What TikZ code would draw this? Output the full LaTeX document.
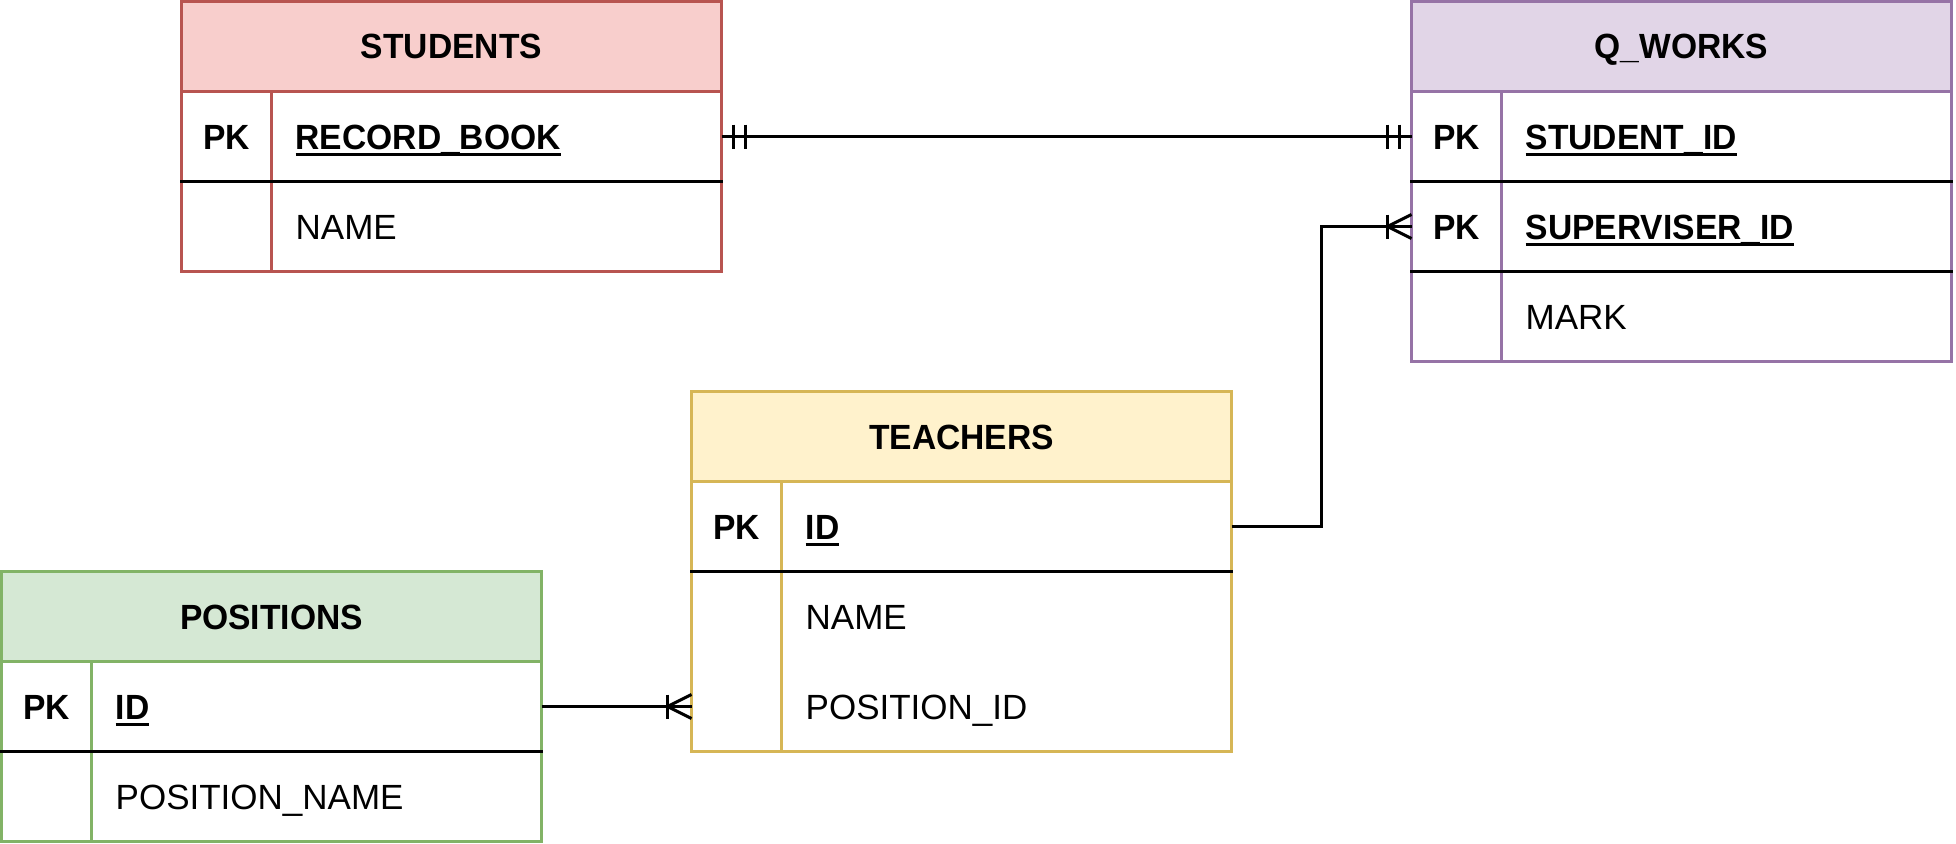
\documentclass[tikz,border=0pt]{standalone}
\usepackage{fontspec}
\setmainfont{Liberation Sans}[BoldFeatures={FakeStretch=0.96}]
\definecolor{redS}{HTML}{B85450}\definecolor{redF}{HTML}{F8CECC}
\definecolor{purS}{HTML}{9673A6}\definecolor{purF}{HTML}{E1D5E7}
\definecolor{yelS}{HTML}{D6B656}\definecolor{yelF}{HTML}{FFF2CC}
\definecolor{grnS}{HTML}{82B366}\definecolor{grnF}{HTML}{D5E8D4}
\newcommand\keyul[1]{\setbox0\hbox{#1}\rlap{\rule[-7pt]{\wd0}{3pt}}\box0}
\tikzset{
  tbl/.style={line width=3pt, inner sep=0pt, outer sep=0pt, anchor=north west, minimum width=540pt},
  hdr/.style={tbl, minimum height=90pt, font=\fontsize{35}{42}\selectfont\bfseries, text height=25pt, text depth=0pt},
  body/.style={tbl, fill=white},
  rowbox/.style={inner sep=0pt, outer sep=0pt, minimum width=540pt, minimum height=90pt},
  pk/.style={font=\fontsize{35}{42}\selectfont\bfseries, text height=25pt, text depth=0pt, inner sep=0pt},
  fld/.style={font=\fontsize{35}{42}\selectfont, anchor=west, text height=25pt, text depth=0pt, inner sep=0pt},
  kfld/.style={fld, font=\fontsize{35}{42}\selectfont\bfseries},
  div/.style={line width=3pt, black},
  conn/.style={line width=3pt, black}
}
\begin{document}
\begin{tikzpicture}[x=1pt,y=-1pt]
\useasboundingbox (0,0) rectangle (1956,843);
% STUDENTS
\node[hdr, draw=redS, fill=redF] (stuH) at (181.5,1.5) {STUDENTS};
\node[body, draw=redS, minimum height=180pt] (stuB) at (181.5,91.5) {};
\node[rowbox] (stuR1) at (451.5,136.5) {};
\node[rowbox] (stuR2) at (451.5,226.5) {};
\draw[line width=3pt, redS] (271.5,91.5) -- (271.5,271.5);
\draw[div] (180,181.5) -- (723,181.5);
\node[pk] (stuPK) at (226.5,136.5) {PK};
\node[kfld] (stuF1) at (295.5,136.5) {\keyul{RECORD\_BOOK}};
\node[fld] (stuF2) at (295.5,226.5) {NAME};
% Q_WORKS
\node[hdr, draw=purS, fill=purF] (qwH) at (1411.5,1.5) {Q\_WORKS};
\node[body, draw=purS, minimum height=270pt] (qwB) at (1411.5,91.5) {};
\node[rowbox] (qwR1) at (1681.5,136.5) {};
\node[rowbox] (qwR2) at (1681.5,226.5) {};
\node[rowbox] (qwR3) at (1681.5,316.5) {};
\draw[line width=3pt, purS] (1501.5,91.5) -- (1501.5,361.5);
\draw[div] (1410,181.5) -- (1953,181.5);
\draw[div] (1410,271.5) -- (1953,271.5);
\node[pk] (qwPK1) at (1456.5,136.5) {PK};
\node[pk] (qwPK2) at (1456.5,226.5) {PK};
\node[kfld] (qwF1) at (1525.5,136.5) {\keyul{STUDENT\_ID}};
\node[kfld] (qwF2) at (1525.5,226.5) {\keyul{SUPERVISER\_ID}};
\node[fld] (qwF3) at (1525.5,316.5) {MARK};
% TEACHERS
\node[hdr, draw=yelS, fill=yelF] (teaH) at (691.5,391.5) {TEACHERS};
\node[body, draw=yelS, minimum height=270pt] (teaB) at (691.5,481.5) {};
\node[rowbox] (teaR1) at (961.5,526.5) {};
\node[rowbox] (teaR2) at (961.5,616.5) {};
\node[rowbox] (teaR3) at (961.5,706.5) {};
\draw[line width=3pt, yelS] (781.5,481.5) -- (781.5,751.5);
\draw[div] (690,571.5) -- (1233,571.5);
\node[pk] (teaPK) at (736.5,526.5) {PK};
\node[kfld] (teaF1) at (805.5,526.5) {\keyul{ID}};
\node[fld] (teaF2) at (805.5,616.5) {NAME};
\node[fld] (teaF3) at (805.5,706.5) {POSITION\_ID};
% POSITIONS
\node[hdr, draw=grnS, fill=grnF] (posH) at (1.5,571.5) {POSITIONS};
\node[body, draw=grnS, minimum height=180pt] (posB) at (1.5,661.5) {};
\node[rowbox] (posR1) at (271.5,706.5) {};
\node[rowbox] (posR2) at (271.5,796.5) {};
\draw[line width=3pt, grnS] (91.5,661.5) -- (91.5,841.5);
\draw[div] (0,751.5) -- (543,751.5);
\node[pk] (posPK) at (46.5,706.5) {PK};
\node[kfld] (posF1) at (115.5,706.5) {\keyul{ID}};
\node[fld] (posF2) at (115.5,796.5) {POSITION\_NAME};
% connector STUDENTS -- Q_WORKS (one and only one at both ends)
\draw[conn] (stuR1.east) -- (qwR1.west);
\foreach \d in {12,24}{
  \draw[conn] ([xshift=\d pt,yshift=12pt]stuR1.east) -- ([xshift=\d pt,yshift=-12pt]stuR1.east);
  \draw[conn] ([xshift=-\d pt,yshift=12pt]qwR1.west) -- ([xshift=-\d pt,yshift=-12pt]qwR1.west);
}
% connector TEACHERS -- Q_WORKS (one to many)
\draw[conn] (teaR1.east) -- ++(90,0) |- (qwR2.west);
\draw[conn] ([yshift=12pt]qwR2.west) -- ([xshift=-24pt]qwR2.west) -- ([yshift=-12pt]qwR2.west);
\draw[conn] ([xshift=-24pt,yshift=12pt]qwR2.west) -- ([xshift=-24pt,yshift=-12pt]qwR2.west);
% connector POSITIONS -- TEACHERS (one to many)
\draw[conn] (posR1.east) -- (teaR3.west);
\draw[conn] ([yshift=12pt]teaR3.west) -- ([xshift=-24pt]teaR3.west) -- ([yshift=-12pt]teaR3.west);
\draw[conn] ([xshift=-24pt,yshift=12pt]teaR3.west) -- ([xshift=-24pt,yshift=-12pt]teaR3.west);
\end{tikzpicture}
\end{document}
